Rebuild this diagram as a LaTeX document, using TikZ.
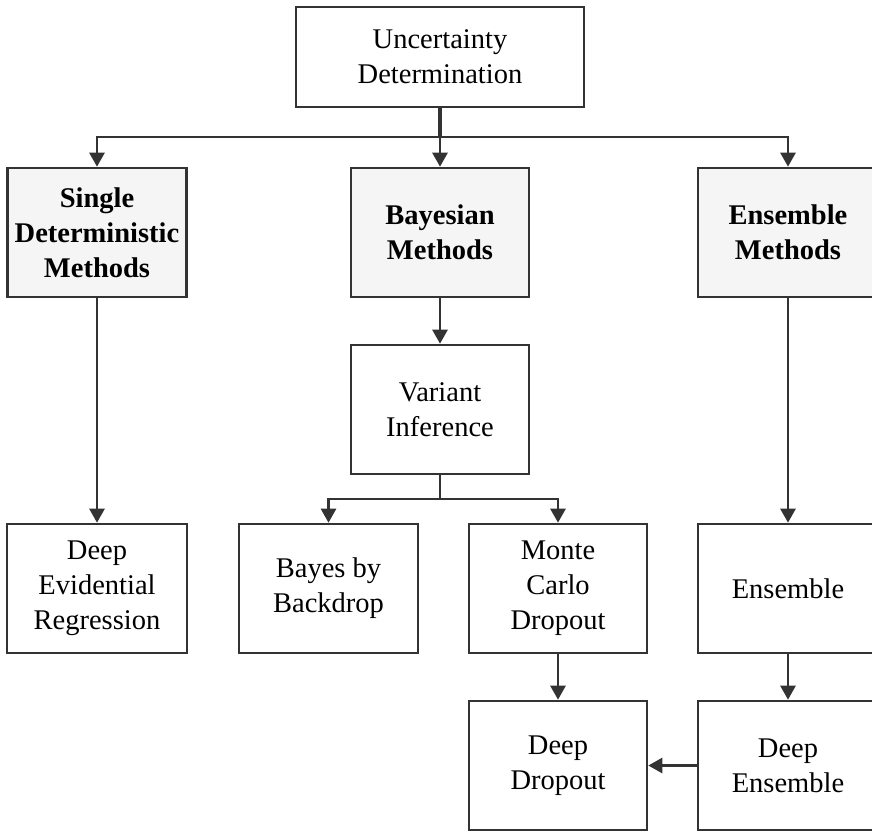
\documentclass[tikz,border=0pt]{standalone}
\usepackage{fontspec}
\setmainfont{Liberation Serif}
\usetikzlibrary{arrows.meta}
\definecolor{linecol}{HTML}{333333}
\definecolor{methodfill}{HTML}{F5F5F5}
\tikzset{
  box/.style={draw=linecol, line width=2.6pt, fill=white, align=center,
    inner sep=0pt, font=\fontsize{28.5}{35}\selectfont},
  method/.style={box, fill=methodfill, font=\fontsize{28.5}{35}\selectfont\bfseries},
  conn/.style={draw=linecol, line width=2.6pt},
  arr/.style={conn, -{Triangle[length=14pt,width=15pt]}},
}
\begin{document}
\begin{tikzpicture}[x=1pt,y=-1pt]
  \useasboundingbox (0,0) rectangle (872,831);
  \clip (0,0) rectangle (872,831);
  \fill[white] (0,0) rectangle (872,831);

  % root
  \node[box, minimum width=288pt, minimum height=100pt] (root) at (440,57)
    {Uncertainty\\Determination};

  % method families
  \node[method, minimum width=179pt, minimum height=129pt] (sdm) at (97,232.5)
    {Single\\Deterministic\\Methods};
  \node[method, minimum width=178pt, minimum height=129pt] (bay) at (440,232.5)
    {Bayesian\\Methods};
  \node[method, minimum width=180pt, minimum height=129pt] (ens) at (788,232.5)
    {Ensemble\\Methods};

  % second level
  \node[box, minimum width=178pt, minimum height=129pt] (var) at (440,409.5)
    {Variant\\Inference};

  % concrete methods
  \node[box, minimum width=180pt, minimum height=129pt] (der) at (97,588.5)
    {Deep\\Evidential\\Regression};
  \node[box, minimum width=179pt, minimum height=129pt] (bbb) at (328.5,588.5)
    {Bayes by\\Backdrop};
  \node[box, minimum width=178pt, minimum height=129pt] (mcd) at (558,588.5)
    {Monte\\Carlo\\Dropout};
  \node[box, minimum width=180pt, minimum height=129pt] (ens2) at (788,588.5)
    {Ensemble};
  \node[box, minimum width=178pt, minimum height=129pt] (dd) at (558,765.5)
    {Deep\\Dropout};
  \node[box, minimum width=180pt, minimum height=129pt] (de) at (788,765.5)
    {Deep\\Ensemble};

  % junctions of the branching connectors
  \coordinate (j1) at (440,137);
  \coordinate (j2) at (440,499);

  % root to families
  \draw[conn, line width=3.4pt] (root.south) -- (j1);
  \draw[arr] (j1) -| (sdm.north);
  \draw[arr] (j1) -- (bay.north);
  \draw[arr] (j1) -| (ens.north);

  % family to members
  \draw[arr] (sdm.south) -- (der.north);
  \draw[arr] (bay.south) -- (var.north);
  \draw[conn] (var.south) -- (j2);
  \draw[arr] (j2) -| (bbb.north);
  \draw[arr] (j2) -| (mcd.north);
  \draw[arr] (ens.south) -- (ens2.north);

  % derived methods
  \draw[arr] (mcd.south) -- (dd.north);
  \draw[arr] (ens2.south) -- (de.north);
  \draw[arr] (de.west) -- (dd.east);
\end{tikzpicture}
\end{document}
